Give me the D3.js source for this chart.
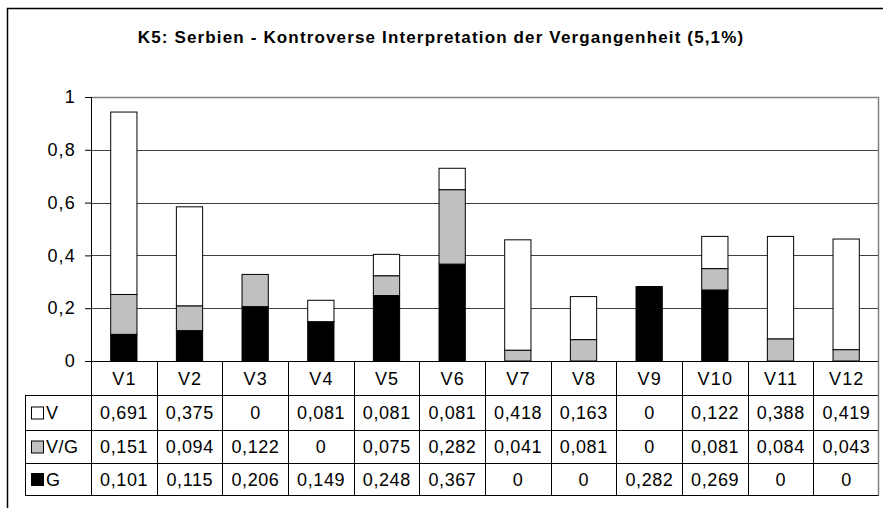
<!DOCTYPE html>
<html>
<head>
<meta charset="utf-8">
<script src="https://cdn.jsdelivr.net/npm/d3@7"></script>
<style>
  body { margin: 0; background: #fff; }
  text { font-family: "Liberation Sans", Arial, sans-serif; }
</style>
</head>
<body>
<script>
// Daten
const categories = ['V1', 'V2', 'V3', 'V4', 'V5', 'V6', 'V7', 'V8', 'V9', 'V10', 'V11', 'V12'];
const seriesNames = ['V', 'V/G', 'G'];
const valuesV = [0.691, 0.375, 0, 0.081, 0.081, 0.081, 0.418, 0.163, 0, 0.122, 0.388, 0.419];
const valuesVG = [0.151, 0.094, 0.122, 0, 0.075, 0.282, 0.041, 0.081, 0, 0.081, 0.084, 0.043];
const valuesG = [0.101, 0.115, 0.206, 0.149, 0.248, 0.367, 0, 0, 0.282, 0.269, 0, 0];
const yTicks = [0, 0.2, 0.4, 0.6, 0.8, 1];

const width = 883;
const height = 508;

const svg = d3.select('body').append('svg')
  .attr('width', width)
  .attr('height', height);

// Rahmen
svg.append('rect')
  .attr('x', 7.5).attr('y', 8.5)
  .attr('width', width + 10).attr('height', height + 10)
  .attr('fill', '#fff').attr('stroke', '#000').attr('stroke-width', 1.5);

// Titel
svg.append('text')
  .attr('x', 441).attr('y', 42.5)
  .attr('text-anchor', 'middle')
  .attr('font-size', 17).attr('font-weight', 'bold')
  .attr('letter-spacing', 1.15)
  .text('K5: Serbien - Kontroverse Interpretation der Vergangenheit (5,1%)');

const plot = { left: 91, right: 879, top: 97, bottom: 361 };

const locale = d3.formatLocale({ decimal: ',', thousands: '.', grouping: [3], currency: ['', '€'] });
const fmt = v => locale.format('~g')(v);

const xScale = d3.scaleBand()
  .domain(categories)
  .range([plot.left, plot.right]);

const yScale = d3.scaleLinear()
  .domain([0, 1])
  .range([plot.bottom, plot.top]);

// Gitterlinien
svg.append('g')
  .selectAll('line')
  .data(yTicks.filter(d => d > 0 && d < 1))
  .enter().append('line')
  .attr('x1', plot.left).attr('x2', plot.right)
  .attr('y1', d => Math.round(yScale(d)) + 0.5)
  .attr('y2', d => Math.round(yScale(d)) + 0.5)
  .attr('stroke', '#404040');

// Plotrahmen oben/rechts (grau)
svg.append('path')
  .attr('d', `M${plot.left},${plot.top + 0.5}H${plot.right - 0.5}V${plot.bottom}`)
  .attr('fill', 'none').attr('stroke', '#808080').attr('stroke-width', 1.5);

// Gestapelte Balken
const rows = categories.map((c, i) => ({ cat: c, 'V': valuesV[i], 'V/G': valuesVG[i], 'G': valuesG[i] }));
const stacked = d3.stack().keys(['G', 'V/G', 'V'])(rows);
const colors = { 'G': '#000', 'V/G': '#c0c0c0', 'V': '#fff' };
const barW = xScale.bandwidth() * 0.4;

svg.append('g')
  .selectAll('g')
  .data(stacked)
  .enter().append('g')
  .attr('fill', d => colors[d.key])
  .selectAll('rect')
  .data(d => d.filter(s => s[1] - s[0] > 0))
  .enter().append('rect')
  .attr('x', d => xScale(d.data.cat) + (xScale.bandwidth() - barW) / 2)
  .attr('y', d => yScale(d[1]))
  .attr('width', barW)
  .attr('height', d => yScale(d[0]) - yScale(d[1]))
  .attr('stroke', '#000')
  .attr('stroke-width', 1);

// y-Achse
const yAxis = d3.axisLeft(yScale)
  .tickValues(yTicks)
  .tickSize(6)
  .tickPadding(9)
  .tickFormat(fmt);

const gy = svg.append('g')
  .attr('transform', 'translate(' + plot.left + ',0)')
  .call(yAxis);
gy.select('.domain').remove();
gy.selectAll('.tick line').attr('stroke', '#000');
gy.append('line').attr('x1', 0.5).attr('x2', 0.5).attr('y1', plot.top).attr('y2', plot.bottom).attr('stroke', '#000');
gy.selectAll('.tick text')
  .attr('font-size', 18)
  .attr('letter-spacing', 1.2)
  .attr('fill', '#000')
  .attr('font-family', '"Liberation Sans", Arial, sans-serif');

// Datentabelle
const tableLeft = 25;
const rowY = [361, 395, 430, 463, 495];
const seriesValues = [valuesV, valuesVG, valuesG];
const seriesColors = ['#fff', '#c0c0c0', '#000'];
const table = svg.append('g');

// Kategoriezeile
table.selectAll('.cat')
  .data(categories)
  .enter().append('text')
  .attr('class', 'cat')
  .attr('x', d => xScale(d) + xScale.bandwidth() / 2)
  .attr('dx', 0.6)
  .attr('y', (rowY[0] + rowY[1]) / 2 + 6.5)
  .attr('text-anchor', 'middle')
  .attr('font-size', 18)
  .attr('letter-spacing', 1.2)
  .text(d => d);

// Werte
seriesNames.forEach((name, r) => {
  const yMid = (rowY[r + 1] + rowY[r + 2]) / 2;
  table.selectAll('.val' + r)
    .data(seriesValues[r])
    .enter().append('text')
    .attr('x', (d, i) => xScale(categories[i]) + xScale.bandwidth() / 2)
    .attr('dx', 0.3)
    .attr('y', yMid + 6.5)
    .attr('text-anchor', 'middle')
    .attr('font-size', 18)
    .attr('letter-spacing', 0.6)
    .text(d => fmt(d));
  table.append('rect')
    .attr('x', 31.5).attr('y', yMid - 5.5)
    .attr('width', 12).attr('height', 12)
    .attr('fill', seriesColors[r]).attr('stroke', '#000');
  table.append('text')
    .attr('x', 46).attr('y', yMid + 6.5)
    .attr('font-size', 18)
    .attr('letter-spacing', 0.5)
    .text(name);
});

// Tabellenlinien
table.append('line')
  .attr('x1', plot.left - 6).attr('x2', plot.right)
  .attr('y1', plot.bottom + 0.5).attr('y2', plot.bottom + 0.5)
  .attr('stroke', '#000');
rowY.slice(1).forEach(y => {
  table.append('line')
    .attr('x1', tableLeft).attr('x2', plot.right)
    .attr('y1', y + 0.5).attr('y2', y + 0.5)
    .attr('stroke', '#000');
});
table.append('line')
  .attr('x1', tableLeft + 0.5).attr('x2', tableLeft + 0.5)
  .attr('y1', rowY[1]).attr('y2', rowY[4])
  .attr('stroke', '#000');
categories.slice(1).forEach(c => {
  const x = Math.round(xScale(c)) + 0.5;
  table.append('line')
    .attr('x1', x).attr('x2', x)
    .attr('y1', rowY[0]).attr('y2', rowY[4])
    .attr('stroke', '#000');
});
table.append('line')
  .attr('x1', plot.left + 0.5).attr('x2', plot.left + 0.5)
  .attr('y1', rowY[0]).attr('y2', rowY[4])
  .attr('stroke', '#000');
table.append('line')
  .attr('x1', plot.right - 0.5).attr('x2', plot.right - 0.5)
  .attr('y1', rowY[0]).attr('y2', rowY[4] + 0.5)
  .attr('stroke', '#808080').attr('stroke-width', 1.5);
</script>
</body>
</html>
